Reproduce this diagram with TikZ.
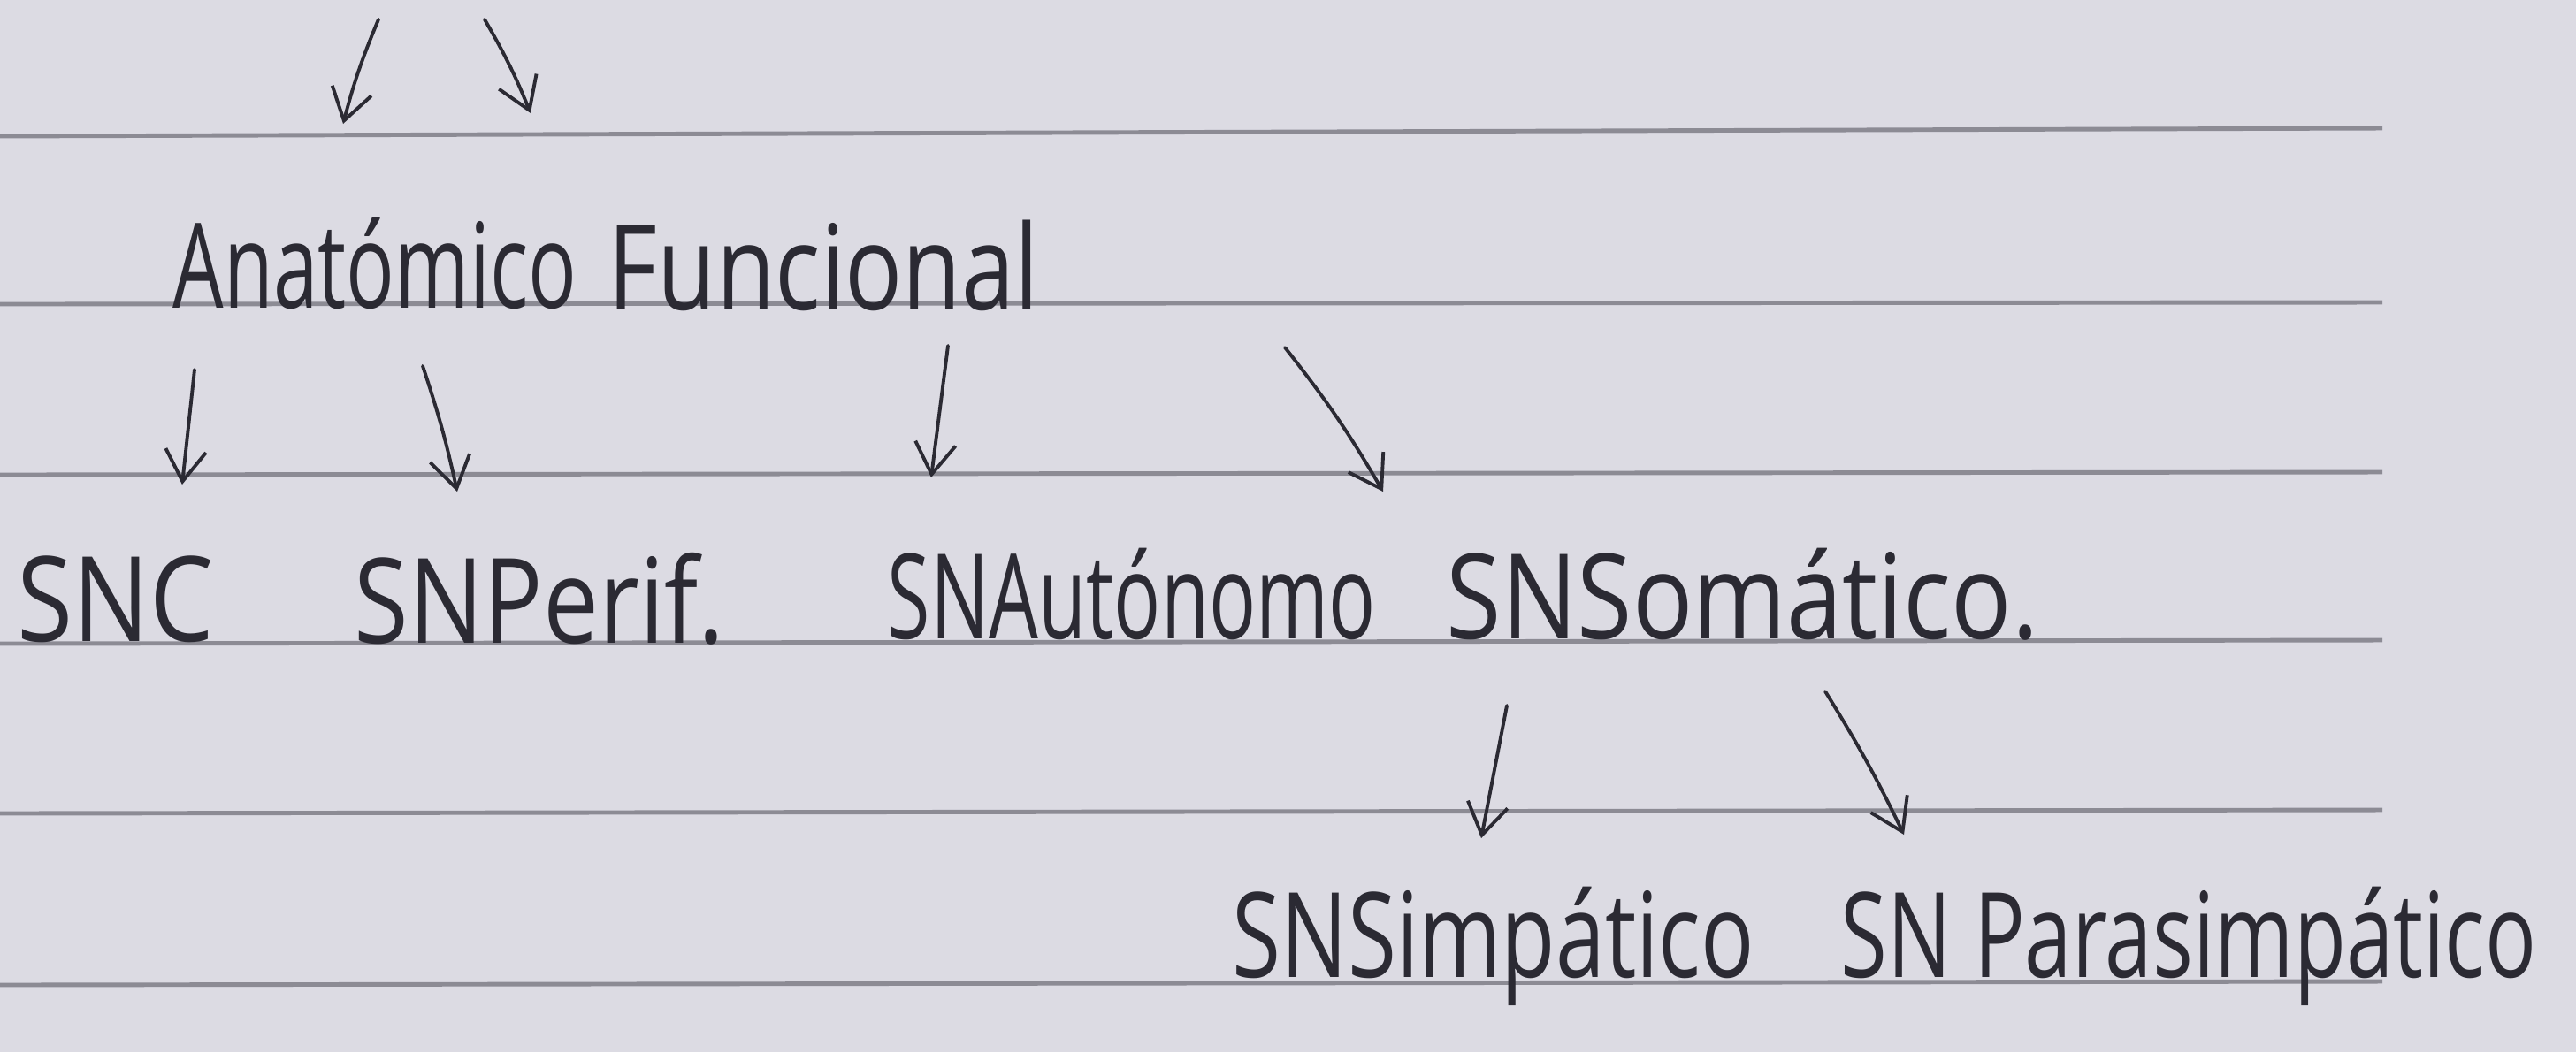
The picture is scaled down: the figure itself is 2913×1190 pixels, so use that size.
\documentclass[tikz,border=0pt]{standalone}
\usepackage{fontspec}
\setmainfont{Open Sans}
\usetikzlibrary{arrows.meta}
\definecolor{paper}{HTML}{DCDBE3}
\definecolor{rulecol}{HTML}{8C8B94}
\definecolor{ink}{HTML}{2B2A33}
\newcommand\hwtext[2]{\scalebox{#1}[1]{#2}}
\tikzset{
  lbl/.style={anchor=base west, inner sep=0pt, text=ink, font=\fontsize{38}{40}\selectfont},
  hwarrow/.style={draw=ink, line width=1.1pt, line cap=round,
    -{Straight Barb[length=10pt,width=13pt,line width=1.1pt]}},
  ruling/.style={draw=rulecol, line width=1.4pt}
}
\begin{document}
\begin{tikzpicture}[x=0.01cm,y=-0.01cm]
\fill[paper] (0,0) rectangle (2913,1190);
\useasboundingbox (0,0) rectangle (2913,1190);
% ruled lines
\draw[ruling] (0,154) -- (2694,145);
\draw[ruling] (0,344) -- (2694,342);
\draw[ruling] (0,537) -- (2694,534);
\draw[ruling] (0,728) -- (2694,724);
\draw[ruling] (0,920) -- (2694,916);
\draw[ruling] (0,1114) -- (2694,1110);
% texts
\node[lbl] (anat) at (195,348) {\hwtext{0.68}{Anatómico}};
\node[lbl] (func) at (687,350) {\hwtext{0.81}{Funcional}};
\node[lbl] (snc)  at (19,725)  {\hwtext{0.86}{SNC}};
\node[lbl] (snp)  at (400,727) {\hwtext{0.84}{SNPerif.}};
\node[lbl] (sna)  at (1003,722) {\hwtext{0.66}{SNAutónomo}};
\node[lbl] (sns)  at (1635,722) {\hwtext{0.85}{SNSomático.}};
\node[lbl] (snsi) at (1393,1105) {\hwtext{0.75}{SNSimpático}};
\node[lbl] (snpa) at (2081,1105) {\hwtext{0.72}{SN Parasimpático}};
% arrow end points
\coordinate (a1s) at (428,22);   \coordinate (a1e) at (388,140);
\coordinate (a2s) at (548,22);   \coordinate (a2e) at (600,128);
\coordinate (b1s) at (220,418);  \coordinate (b1e) at (206,548);
\coordinate (b2s) at (478,414);  \coordinate (b2e) at (517,556);
\coordinate (b3s) at (1072,391); \coordinate (b3e) at (1053,540);
\coordinate (b4s) at (1453,393); \coordinate (b4e) at (1564,556);
\coordinate (c1s) at (1704,798); \coordinate (c1e) at (1675,948);
\coordinate (c2s) at (2064,782); \coordinate (c2e) at (2153,944);
% arrows
\draw[hwarrow] (a1s) to[bend right=4] (a1e);
\draw[hwarrow] (a2s) to[bend left=4] (a2e);
\draw[hwarrow] (b1s) -- (b1e);
\draw[hwarrow] (b2s) to[bend left=3] (b2e);
\draw[hwarrow] (b3s) -- (b3e);
\draw[hwarrow] (b4s) to[bend left=4] (b4e);
\draw[hwarrow] (c1s) -- (c1e);
\draw[hwarrow] (c2s) to[bend left=3] (c2e);
\end{tikzpicture}
\end{document}
